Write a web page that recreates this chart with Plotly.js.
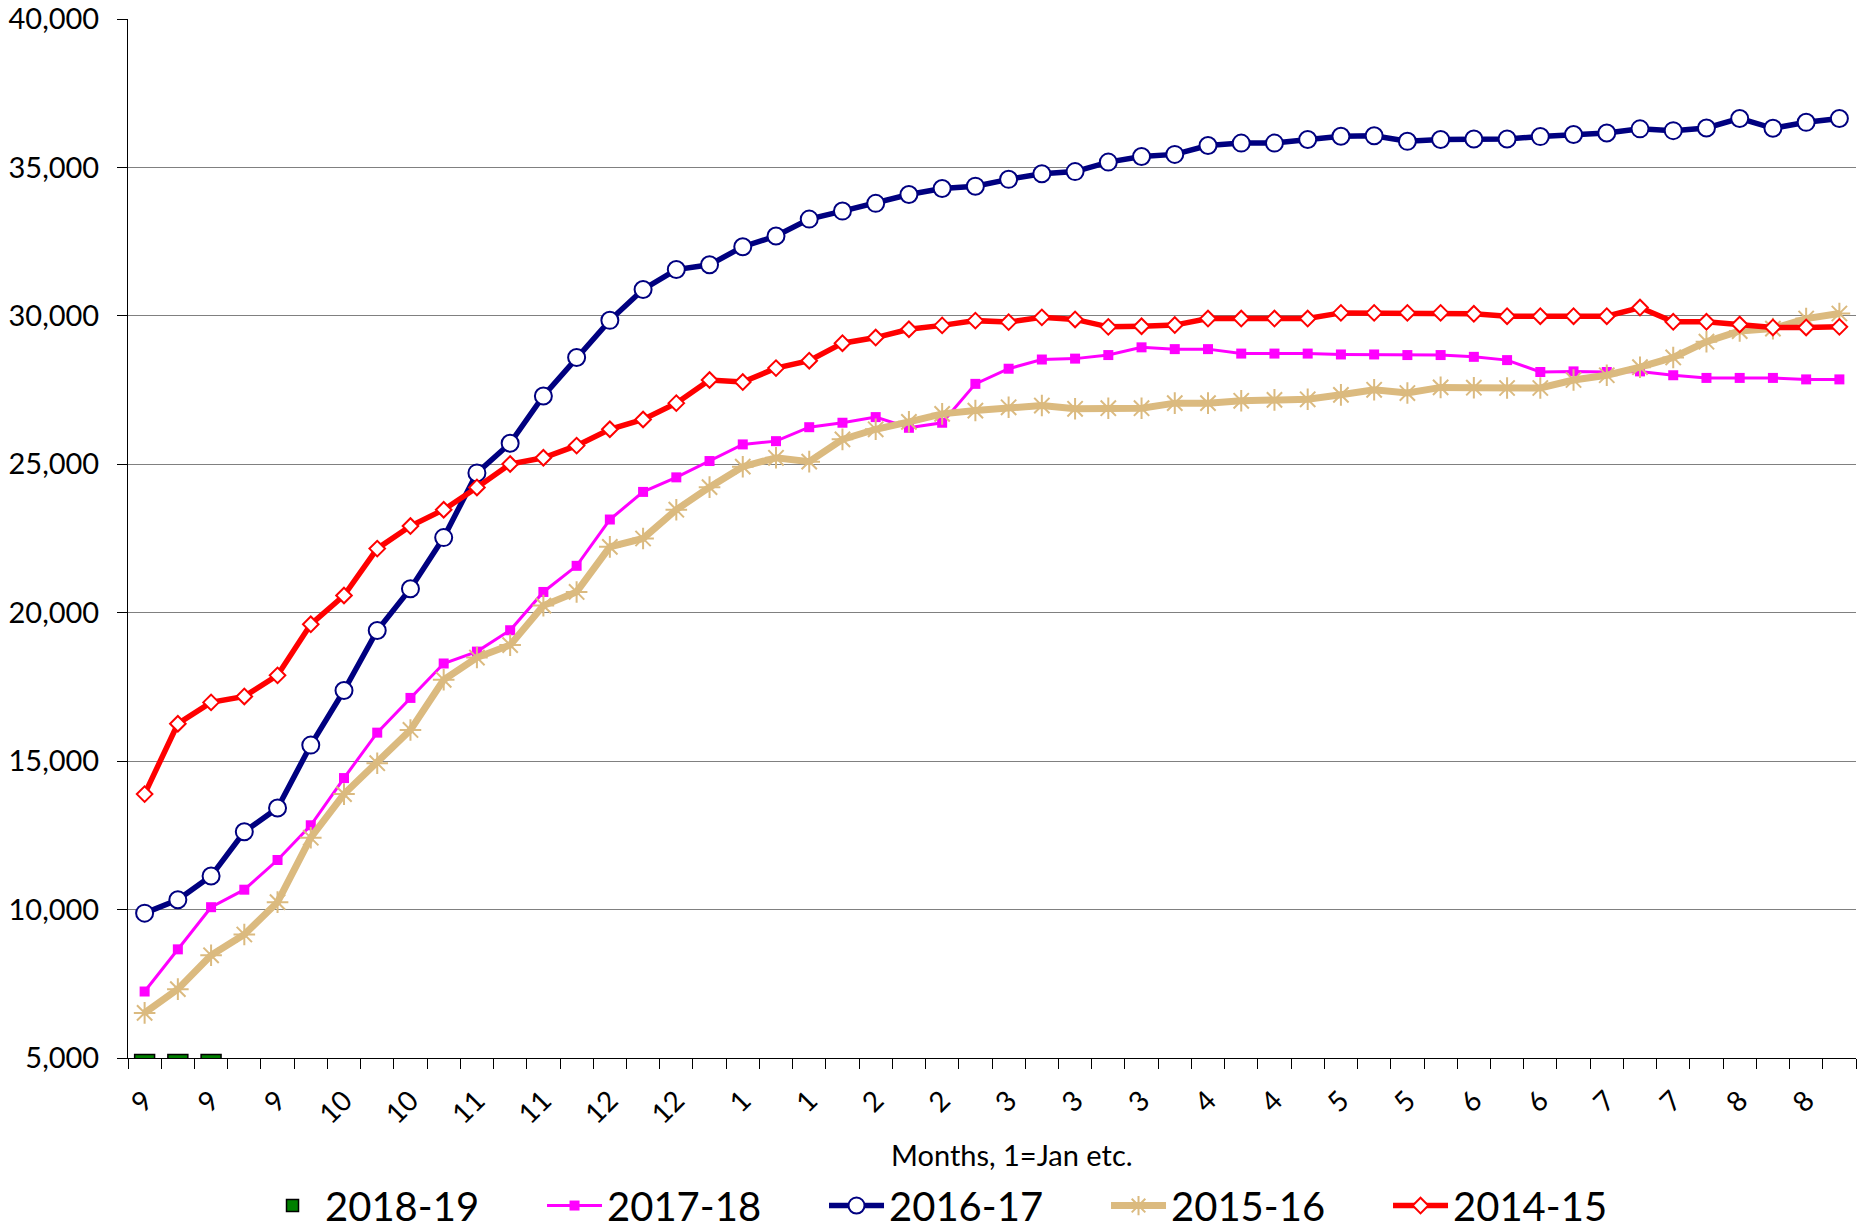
<!DOCTYPE html>
<html>
<head>
<meta charset="utf-8">
<script src="https://cdn.plot.ly/plotly-3.0.1.min.js"></script>
<style>
  html, body { margin: 0; padding: 0; background: #ffffff; }
  #chart { width: 1860px; height: 1231px; }
</style>
</head>
<body>
<div id="chart"></div>
<script>
// ---- data ----
const weeks = [1,2,3,4,5,6,7,8,9,10,11,12,13,14,15,16,17,18,19,20,21,22,23,24,25,26,
               27,28,29,30,31,32,33,34,35,36,37,38,39,40,41,42,43,44,45,46,47,48,49,50,51,52];

const tickWeeks  = [1,3,5,7,9,11,13,15,17,19,21,23,25,27,29,31,33,35,37,39,41,43,45,47,49,51];
const tickLabels = ['9','9','9','10','10','11','11','12','12','1','1','2','2','3','3','3',
                    '4','4','5','5','6','6','7','7','8','8'];

const s2018_19 = [5120, 5120, 5120];

const s2017_18 = [7240, 8660, 10080, 10670, 11670, 12840, 14430, 15960, 17130, 18290, 18690, 19410,
                  20700, 21580, 23140, 24070, 24560, 25110, 25670, 25780, 26250, 26400, 26590, 26230,
                  26400, 27710, 28220, 28530, 28560, 28680, 28940, 28880, 28880, 28730, 28730, 28730,
                  28700, 28700, 28680, 28680, 28620, 28510, 28110, 28130, 28110, 28130, 28000, 27910,
                  27910, 27910, 27860, 27860];

const s2016_17 = [9880, 10330, 11130, 12620, 13420, 15540, 17380, 19400, 20810, 22530, 24710, 25710,
                  27300, 28600, 29850, 30890, 31560, 31720, 32330, 32690, 33260, 33530, 33790, 34090,
                  34290, 34370, 34600, 34790, 34860, 35180, 35370, 35440, 35740, 35820, 35820, 35940,
                  36050, 36070, 35880, 35940, 35960, 35960, 36040, 36110, 36160, 36300, 36240, 36330,
                  36650, 36320, 36520, 36650];

const s2015_16 = [6520, 7320, 8460, 9160, 10250, 12420, 13890, 14930, 16050, 17740, 18490, 18910,
                  20240, 20700, 22220, 22500, 23470, 24230, 24920, 25220, 25090, 25840, 26180, 26430,
                  26700, 26810, 26920, 26980, 26870, 26890, 26890, 27060, 27060, 27140, 27170, 27190,
                  27340, 27510, 27400, 27590, 27580, 27570, 27570, 27840, 28000, 28270, 28600, 29130,
                  29490, 29570, 29910, 30080];

const s2014_15 = [13890, 16260, 16980, 17180, 17890, 19610, 20580, 22160, 22920, 23470, 24220, 25010,
                  25220, 25630, 26180, 26510, 27060, 27840, 27770, 28240, 28490, 29080, 29270, 29550,
                  29680, 29840, 29790, 29950, 29880, 29630, 29650, 29690, 29910, 29910, 29910, 29910,
                  30100, 30100, 30100, 30100, 30070, 29990, 29990, 29990, 29990, 30280, 29800, 29800,
                  29710, 29610, 29610, 29630];

const xTitle = 'Months, 1=Jan etc.';

const FONT = 'Lato, "Open Sans", "DejaVu Sans", sans-serif';

const traces = [
  {
    type: 'bar', name: '2018-19',
    x: weeks.slice(0, s2018_19.length), y: s2018_19,
    marker: { color: '#008000', line: { color: '#000000', width: 1.5 } },
    hoverinfo: 'x+y'
  },
  {
    type: 'scatter', mode: 'lines+markers', name: '2017-18',
    x: weeks, y: s2017_18,
    line: { color: '#FF00FF', width: 3 },
    marker: { symbol: 'square', size: 10, color: '#FF00FF' }
  },
  {
    type: 'scatter', mode: 'lines+markers', name: '2016-17',
    x: weeks, y: s2016_17,
    line: { color: '#000080', width: 5.5 },
    marker: { symbol: 'circle', size: 17, color: '#FFFFFF', line: { color: '#000080', width: 2 } }
  },
  {
    type: 'scatter', mode: 'lines+markers', name: '2015-16',
    x: weeks, y: s2015_16,
    line: { color: '#DBBA7F', width: 7 },
    marker: { symbol: 'asterisk-open', size: 18, color: '#DBBA7F', line: { color: '#DBBA7F', width: 2 } }
  },
  {
    type: 'scatter', mode: 'lines+markers', name: '2014-15',
    x: weeks, y: s2014_15,
    line: { color: '#FF0000', width: 5.5 },
    marker: { symbol: 'diamond', size: 12, color: '#FFFFFF', line: { color: '#FF0000', width: 2 } }
  }
];

const layout = {
  width: 1860, height: 1231,
  paper_bgcolor: '#FFFFFF', plot_bgcolor: '#FFFFFF',
  margin: { l: 128, r: 4, t: 19, b: 173, autoexpand: false },
  font: { family: FONT, color: '#000000' },
  bargap: 0.4,
  showlegend: true,
  legend: {
    orientation: 'h',
    x: 0.0764, xanchor: 'left',
    y: -0.142, yanchor: 'middle',
    font: { family: FONT, size: 40, color: '#000000' },
    traceorder: 'normal',
    itemwidth: 55,
    entrywidth: 212, entrywidthmode: 'pixels',
    bgcolor: 'rgba(0,0,0,0)'
  },
  xaxis: {
    type: 'linear',
    range: [0.5, 52.5],
    tickmode: 'array', tickvals: tickWeeks, ticktext: tickLabels,
    tickangle: -45,
    ticks: '', ticklabelstandoff: 14,
    tickfont: { family: FONT, size: 28, color: '#000000' },
    showgrid: false, zeroline: false,
    showline: true, linecolor: '#000000', linewidth: 1,
    minor: { tickmode: 'linear', tick0: 0.5, dtick: 1, ticks: 'outside', ticklen: 10,
             tickcolor: '#000000', tickwidth: 1, showgrid: false },
    fixedrange: true
  },
  yaxis: {
    range: [5000, 40001],
    tickmode: 'linear', tick0: 5000, dtick: 5000,
    tickformat: ',d',
    ticks: 'outside', ticklen: 10, tickcolor: '#000000', tickwidth: 1,
    ticklabelstandoff: 12,
    ticklabeloverflow: 'allow',
    tickfont: { family: FONT, size: 29, color: '#000000' },
    showgrid: true, gridcolor: '#808080', gridwidth: 1,
    zeroline: false,
    showline: true, linecolor: '#000000', linewidth: 1,
    fixedrange: true
  },
  annotations: [
    {
      text: xTitle, xref: 'paper', yref: 'paper',
      x: 0.5116, y: -0.093, xanchor: 'center', yanchor: 'middle',
      showarrow: false,
      font: { family: FONT, size: 29, color: '#000000' }
    }
  ]
};

Plotly.newPlot('chart', traces, layout, { displayModeBar: false, staticPlot: true });
</script>
</body>
</html>
